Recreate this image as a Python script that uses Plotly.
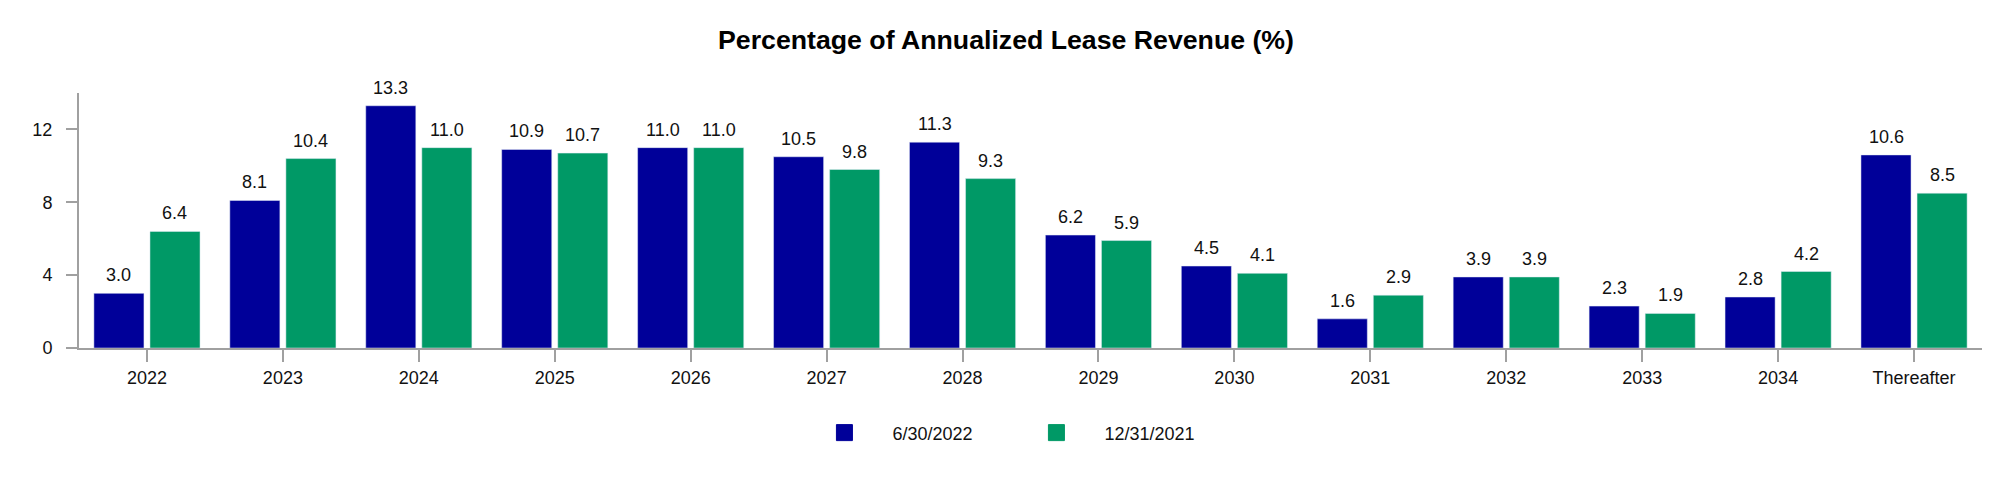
import plotly.graph_objects as go

categories = ["2022", "2023", "2024", "2025", "2026", "2027", "2028",
              "2029", "2030", "2031", "2032", "2033", "2034", "Thereafter"]
jun_2022 = [3.0, 8.1, 13.3, 10.9, 11.0, 10.5, 11.3, 6.2, 4.5, 1.6, 3.9, 2.3, 2.8, 10.6]
dec_2021 = [6.4, 10.4, 11.0, 10.7, 11.0, 9.8, 9.3, 5.9, 4.1, 2.9, 3.9, 1.9, 4.2, 8.5]
series_names = ["6/30/2022", "12/31/2021"]
y_ticks = [0, 4, 8, 12]

BLUE = "#000099"
GREEN = "#009966"
AXIS = "#a0a0a0"
FONT = "Liberation Sans, Arial, sans-serif"

# page body has an 8px margin, so the figure is drawn 16px smaller
W, H = 1996, 468

fig = go.Figure()
for name, vals, color, shift in [(series_names[0], jun_2022, BLUE, -28),
                                 (series_names[1], dec_2021, GREEN, 28)]:
    fig.add_trace(go.Bar(x=categories, y=vals, name=name, marker_color=color,
                         showlegend=False))
    # legend entry with a larger square swatch
    fig.add_trace(go.Scatter(
        x=[None], y=[None], mode="markers", name=name,
        marker=dict(symbol="square", size=16, color=color, line=dict(width=1, color=color)),
    ))
    # value labels, sitting a bit higher than plotly's own outside text
    # (category names look numeric, so annotations use the category index)
    for i, v in enumerate(vals):
        fig.add_annotation(x=i, y=v, text=f"{v:.1f}", showarrow=False,
                           xshift=shift, yshift=6, yanchor="bottom",
                           font=dict(size=18, color="#111"))

fig.update_layout(
    width=W, height=H,
    margin=dict(l=71, r=22, t=85, b=128),
    paper_bgcolor="white", plot_bgcolor="white",
    font=dict(family=FONT, size=18, color="#111"),
    title=dict(text="<b>Percentage of Annualized Lease Revenue (%)</b>",
               x=0.5, xanchor="center", y=1 - 32 / H, yanchor="middle",
               font=dict(size=26.7, color="#000")),
    barmode="group", bargap=0.175, bargroupgap=0.107,
    legend=dict(orientation="h", x=0.377, xanchor="left", y=-0.333, yanchor="middle",
                font=dict(size=18, color="#111"), itemwidth=86,
                entrywidth=111, entrywidthmode="pixels", traceorder="normal"),
)
fig.update_xaxes(type="category", categoryorder="array", categoryarray=categories,
                 range=[-0.5, len(categories) - 0.5],
                 showline=True, linecolor=AXIS, linewidth=2, ticks="outside",
                 ticklen=12, tickcolor=AXIS, tickwidth=2, showgrid=False,
                 tickfont=dict(size=18))
fig.update_yaxes(range=[0, 14], tickvals=y_ticks, showline=True, linecolor=AXIS,
                 linewidth=2, ticks="outside", ticklen=11, tickcolor=AXIS, tickwidth=2,
                 showgrid=False, zeroline=False, ticklabelstandoff=10,
                 tickfont=dict(size=18))

fig.write_html("out.html")
